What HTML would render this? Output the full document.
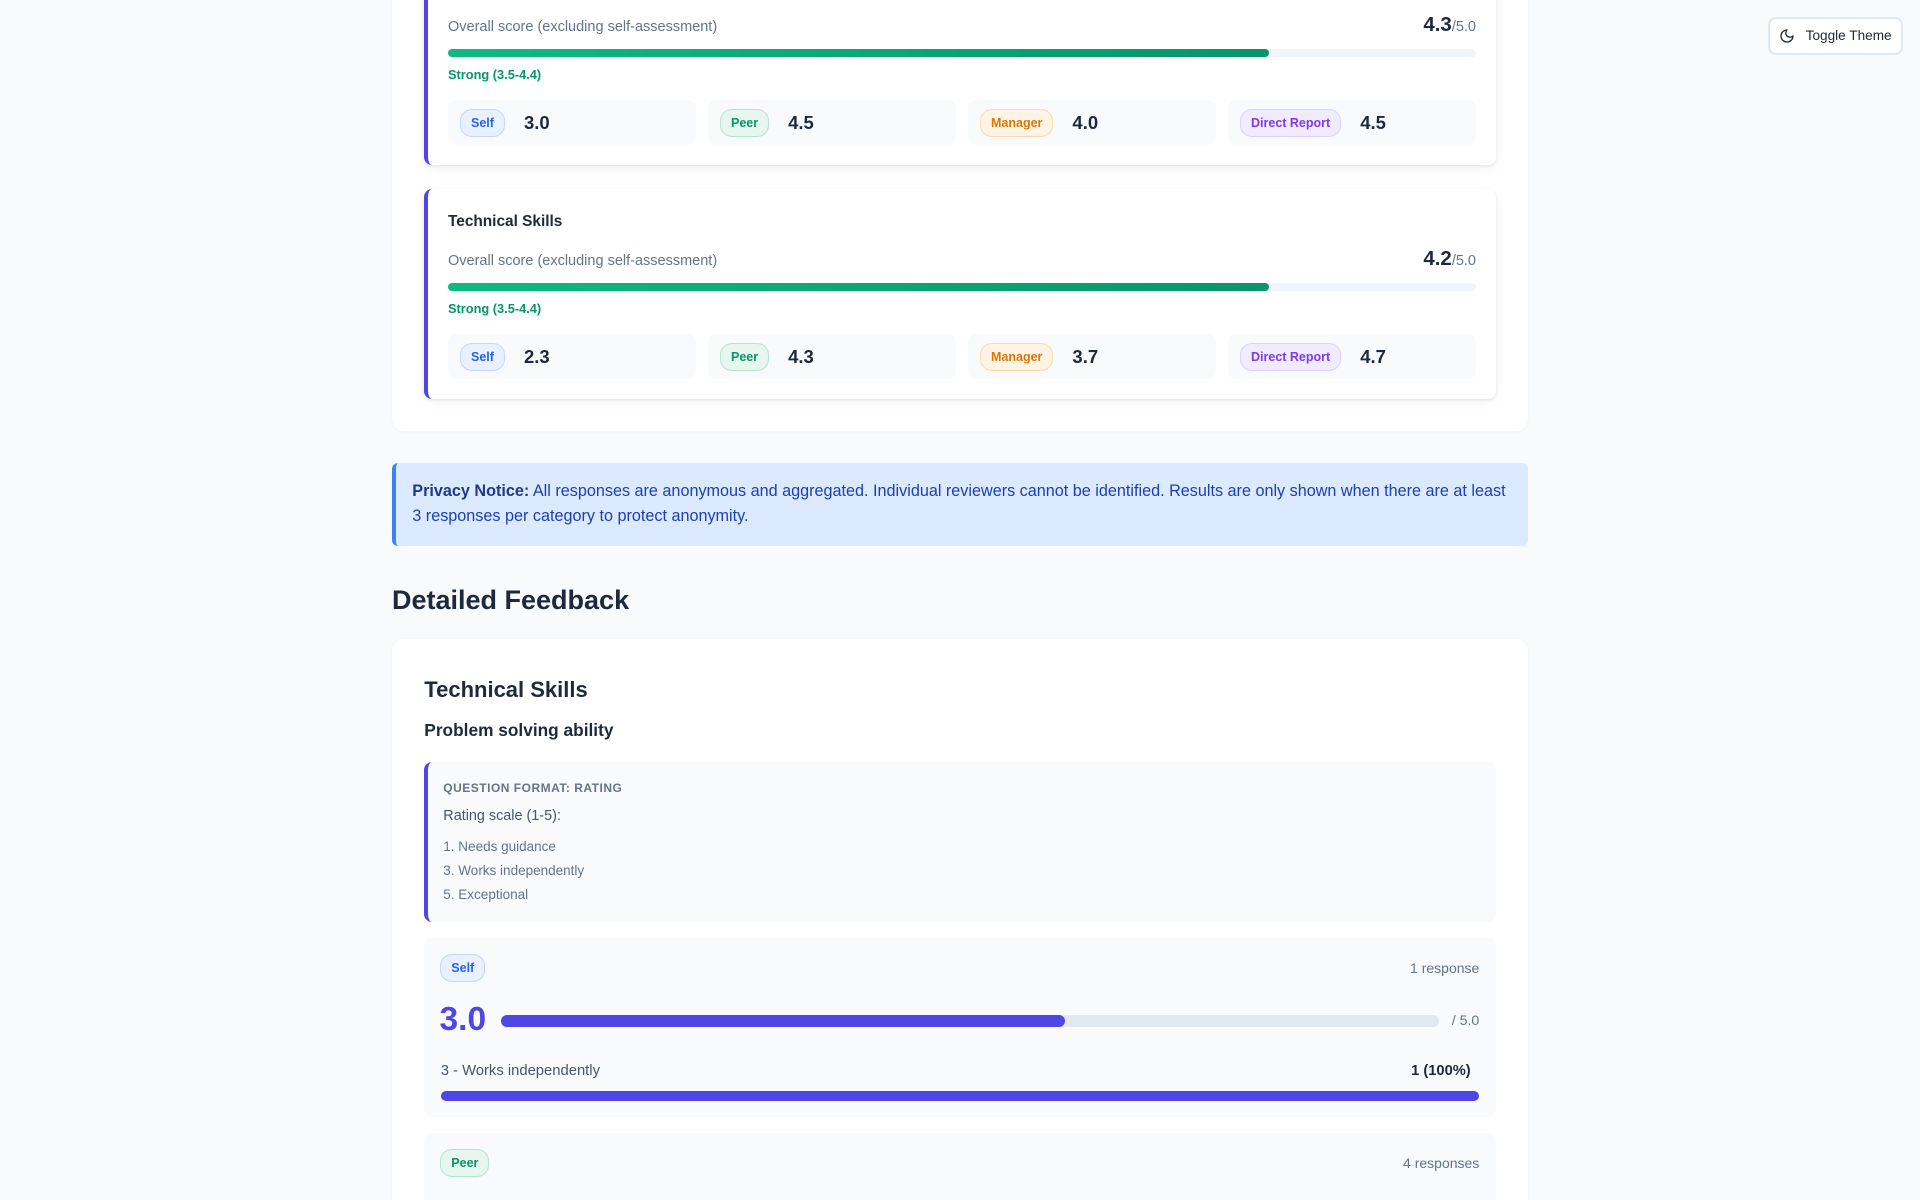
<!DOCTYPE html>
<html>
<head>
<meta charset="utf-8">
<style>
html,body{margin:0;padding:0;width:1920px;height:1200px;overflow:hidden;}
body{background:#f8fafc;font-family:"Liberation Sans",Arial,sans-serif;color:#1e293b;}
#wrap{position:relative;width:1920px;height:1200px;overflow:hidden;background:#f8fafc;}
.a{position:absolute;}
.t{position:absolute;white-space:nowrap;}
.outer{position:absolute;left:392px;top:-100px;width:1136px;height:531px;background:#fff;border-radius:12px;box-shadow:0 1px 2px rgba(15,23,42,0.04);}
.card{position:absolute;left:424px;width:1068px;height:210px;background:#fff;border-left:4px solid #4f46e5;border-radius:8px;box-shadow:0 1px 3px rgba(15,23,42,0.08),0 4px 12px rgba(15,23,42,0.05);}
.ov{font-size:14.5px;line-height:20px;color:#64748b;left:448px;}
.sc{right:444px;line-height:24px;font-size:20.5px;font-weight:bold;color:#1e293b;}
.sc span{font-size:14.5px;font-weight:normal;color:#64748b;}
.track{position:absolute;left:448px;width:1028px;height:8px;border-radius:4px;background:#f1f5f9;}
.fill{position:absolute;left:0;top:0;height:8px;width:821px;border-radius:4px;background:linear-gradient(90deg,#10b981,#059669);}
.strong{left:448px;font-size:12.8px;line-height:16px;font-weight:bold;color:#059669;}
.rbox{position:absolute;width:236px;height:45px;background:#f8fafc;border-radius:8px;display:flex;align-items:center;padding-left:12px;}
.badge{display:inline-block;box-sizing:border-box;height:28px;line-height:26px;padding:0 10px;border:1px solid;border-radius:12px;font-size:12.5px;font-weight:bold;white-space:nowrap;}
.self{background:#eaf1fe;border-color:#c3d7fb;color:#2563eb;}
.peer{background:#e8f6f0;border-color:#b1e6cf;color:#059669;}
.mgr{background:#fdf4e6;border-color:#f9dcaa;color:#d97706;}
.dr{background:#f1ecfd;border-color:#ddd0fb;color:#7c3aed;}
.val{margin-left:19px;font-size:18.5px;font-weight:bold;color:#1e293b;}
.blk{position:absolute;left:424px;width:1072px;background:#f8fafc;border-radius:8px;}
</style>
</head>
<body>
<div id="wrap">

<!-- Outer section card -->
<div class="outer"></div>

<!-- Card 1 -->
<div class="card" style="top:-45px;"></div>
<div class="t" style="left:448px;top:-23px;font-size:15.4px;line-height:20px;font-weight:bold;">Communication</div>
<div class="t ov" style="top:16.7px;">Overall score (excluding self-assessment)</div>
<div class="t sc" style="top:13px;">4.3<span>/5.0</span></div>
<div class="track" style="top:49px;"><div class="fill"></div></div>
<div class="t strong" style="top:66.7px;">Strong (3.5-4.4)</div>
<div class="rbox" style="left:448px;top:100px;"><span class="badge self">Self</span><span class="val">3.0</span></div>
<div class="rbox" style="left:708px;top:100px;"><span class="badge peer">Peer</span><span class="val">4.5</span></div>
<div class="rbox" style="left:968px;top:100px;"><span class="badge mgr">Manager</span><span class="val">4.0</span></div>
<div class="rbox" style="left:1228px;top:100px;"><span class="badge dr">Direct Report</span><span class="val">4.5</span></div>

<!-- Card 2 -->
<div class="card" style="top:189px;"></div>
<div class="t" style="left:448px;top:211.5px;font-size:15.4px;line-height:20px;font-weight:bold;color:#1e293b;">Technical Skills</div>
<div class="t ov" style="top:251px;">Overall score (excluding self-assessment)</div>
<div class="t sc" style="top:247.3px;">4.2<span>/5.0</span></div>
<div class="track" style="top:283px;"><div class="fill"></div></div>
<div class="t strong" style="top:300.7px;">Strong (3.5-4.4)</div>
<div class="rbox" style="left:448px;top:334px;"><span class="badge self">Self</span><span class="val">2.3</span></div>
<div class="rbox" style="left:708px;top:334px;"><span class="badge peer">Peer</span><span class="val">4.3</span></div>
<div class="rbox" style="left:968px;top:334px;"><span class="badge mgr">Manager</span><span class="val">3.7</span></div>
<div class="rbox" style="left:1228px;top:334px;"><span class="badge dr">Direct Report</span><span class="val">4.7</span></div>

<!-- Toggle theme -->
<div class="a" style="left:1768px;top:17px;width:131px;height:34px;border:2px solid #e2e8f0;border-radius:8px;background:#fff;"></div>
<svg class="a" style="left:1779px;top:28px;" width="16" height="16" viewBox="0 0 24 24" fill="none" stroke="#1e293b" stroke-width="2" stroke-linecap="round" stroke-linejoin="round"><path d="M12 3a6 6 0 0 0 9 9 9 9 0 1 1-9-9Z"/></svg>
<div class="t" style="left:1805.7px;top:25.7px;font-size:13.6px;line-height:20px;color:#1e293b;">Toggle Theme</div>

<!-- Privacy notice -->
<div class="a" style="left:392px;top:463px;width:1132px;height:83px;background:#dbeafe;border-left:4px solid #3b82f6;border-radius:6px;"></div>
<div class="t" style="left:412.3px;top:479.2px;font-size:16.2px;line-height:25px;color:#1e40af;"><b style="color:#1e3a8a;">Privacy Notice:</b> All responses are anonymous and aggregated. Individual reviewers cannot be identified. Results are only shown when there are at least<br>3 responses per category to protect anonymity.</div>

<!-- Detailed Feedback -->
<div class="t" style="left:392px;top:583px;font-size:27px;line-height:34px;font-weight:bold;color:#1e293b;">Detailed Feedback</div>

<div class="a" style="left:392px;top:639px;width:1136px;height:600px;background:#fff;border-radius:12px;box-shadow:0 1px 3px rgba(15,23,42,0.05);"></div>
<div class="t" style="left:424.3px;top:676px;font-size:22px;line-height:28px;font-weight:bold;color:#1e293b;">Technical Skills</div>
<div class="t" style="left:424.3px;top:717.5px;font-size:17.3px;line-height:24px;font-weight:bold;color:#1e293b;">Problem solving ability</div>

<!-- Question format box -->
<div class="a" style="left:424px;top:762px;width:1068px;height:160px;background:#f8fafc;border-left:4px solid #4f46e5;border-radius:8px;"></div>
<div class="t" style="left:443.3px;top:779.7px;font-size:12px;line-height:16px;font-weight:bold;letter-spacing:0.5px;color:#64748b;">QUESTION FORMAT: RATING</div>
<div class="t" style="left:443.3px;top:806px;font-size:14.4px;line-height:20px;color:#475569;">Rating scale (1-5):</div>
<div class="t" style="left:443.3px;top:836.7px;font-size:13.5px;line-height:20px;color:#64748b;">1. Needs guidance</div>
<div class="t" style="left:443.3px;top:860.7px;font-size:13.5px;line-height:20px;color:#64748b;">3. Works independently</div>
<div class="t" style="left:443.3px;top:885px;font-size:13.5px;line-height:20px;color:#64748b;">5. Exceptional</div>

<!-- Self block -->
<div class="blk" style="top:938px;height:179px;"></div>
<span class="badge self a" style="left:440.3px;top:954.3px;">Self</span>
<div class="t" style="right:440.7px;top:958.3px;font-size:14px;line-height:20px;color:#64748b;">1 response</div>
<div class="t" style="left:439.5px;top:1000.3px;font-size:33.5px;line-height:40px;font-weight:bold;color:#4f46e5;">3.0</div>
<div class="a" style="left:501px;top:1015px;width:938px;height:11.5px;border-radius:6px;background:#e2e8f0;"><div class="a" style="left:0;top:0;width:564px;height:11.5px;border-radius:6px;background:#4f46e5;"></div></div>
<div class="t" style="left:1451.7px;top:1011px;font-size:14.2px;line-height:20px;color:#64748b;">/ 5.0</div>
<div class="t" style="left:440.7px;top:1061px;font-size:14.8px;line-height:20px;color:#475569;">3 - Works independently</div>
<div class="t" style="right:449.3px;top:1061.3px;font-size:14.7px;line-height:20px;font-weight:bold;color:#1e293b;">1 (100%)</div>
<div class="a" style="left:440.7px;top:1090.7px;width:1038.6px;height:10px;border-radius:5px;background:#4f46e5;"></div>

<!-- Peer block -->
<div class="blk" style="top:1133.3px;height:100px;"></div>
<span class="badge peer a" style="left:440.3px;top:1149.3px;">Peer</span>
<div class="t" style="right:440.7px;top:1153.3px;font-size:14px;line-height:20px;color:#64748b;">4 responses</div>

</div>
</body>
</html>
